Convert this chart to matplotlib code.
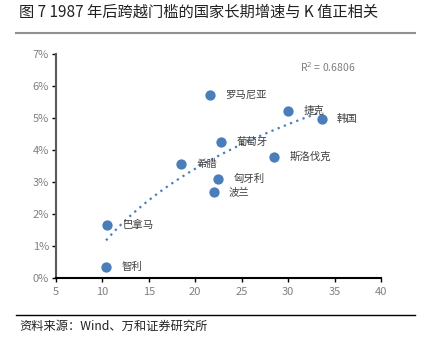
import numpy as np
import matplotlib
matplotlib.use('Agg')
import matplotlib.pyplot as plt
from matplotlib.ticker import FuncFormatter

plt.rcParams['font.family'] = ['Noto Sans CJK SC', 'DejaVu Sans']

# data: K value (x) vs long-run growth % (y)
countries = ['智利', '巴拿马', '希腊', '罗马尼亚', '葡萄牙', '匈牙利', '波兰', '斯洛伐克', '捷克', '韩国']
k_value = [10.4, 10.5, 18.5, 21.6, 22.8, 22.5, 22.0, 28.5, 30.0, 33.6]
growth = [0.34, 1.66, 3.56, 5.72, 4.25, 3.09, 2.69, 3.78, 5.22, 4.97]

title = '图 7 1987 年后跨越门槛的国家长期增速与 K 值正相关'
source = '资料来源：Wind、万和证券研究所'
r2_text = 'R$^2$ = 0.6806'

blue = '#4a7ebb'
gray = '#808080'

fig = plt.figure(figsize=(4.3, 3.4), dpi=100)
ax = fig.add_axes([0.130, 0.182, 0.756, 0.659])

ax.scatter(k_value, growth, s=55, color=blue, zorder=3, linewidths=0)

# logarithmic trend line like Excel's
x = np.array(k_value)
y = np.array(growth)
a, b = np.polyfit(np.log(x), y, 1)
xs = np.linspace(x.min(), x.max(), 100)
ax.plot(xs, a * np.log(xs) + b, color=blue, linestyle=(0, (1, 2)), linewidth=1.6, zorder=2)

for name, xv, yv in zip(countries, k_value, growth):
    ax.annotate(name, (xv, yv), xytext=(11, 0), textcoords='offset points',
                va='center', ha='left', fontsize=7.5, color='#404040')

ax.text(34.3, 6.6, r2_text, ha='center', va='center', fontsize=7.5, color=gray)

ax.set_xlim(5, 40)
ax.set_ylim(0, 7)
ax.set_xticks(range(5, 41, 5))
ax.set_yticks(range(0, 8))
ax.yaxis.set_major_formatter(FuncFormatter(lambda v, p: '%d%%' % v))
ax.tick_params(axis='both', labelsize=8, labelcolor=gray, direction='out', length=3, width=1)
ax.tick_params(axis='y', pad=2)
for s in ['top', 'right']:
    ax.spines[s].set_visible(False)
ax.spines['left'].set_color('#595959')
ax.spines['left'].set_linewidth(1.5)
ax.spines['bottom'].set_color('black')
ax.spines['bottom'].set_linewidth(1.5)

fig.text(0.045, 0.963, title, fontsize=11, ha='left', va='center', color='#222222')
fig.add_artist(plt.Line2D([0.037, 0.965], [0.903, 0.903], color='#909090', linewidth=1.5))
fig.add_artist(plt.Line2D([0.037, 0.965], [0.074, 0.074], color='black', linewidth=1))
fig.text(0.045, 0.04, source, fontsize=8.8, ha='left', va='center', color='#222222')

fig.savefig('out.png', dpi=100)
